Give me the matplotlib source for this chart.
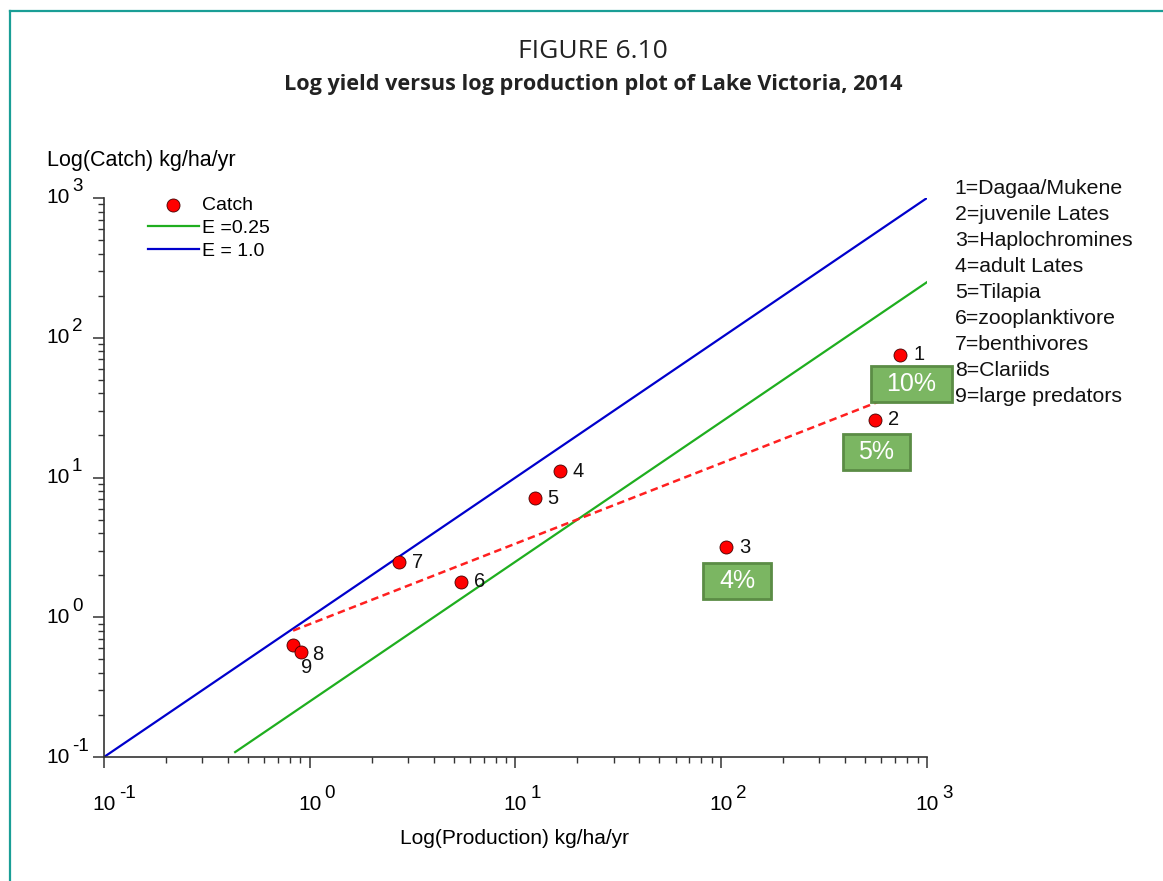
import numpy as np
import matplotlib
matplotlib.use("Agg")
import matplotlib.pyplot as plt
from matplotlib.lines import Line2D
from matplotlib.path import Path
from matplotlib.ticker import LogLocator, NullFormatter

plt.rcParams['font.family'] = ['Liberation Sans', 'DejaVu Sans']

# Production and catch per group, kg/ha/yr
group_ids = ['1', '2', '3', '4', '5', '6', '7', '8', '9']
production = [740, 559, 105.5, 16.4, 12.4, 5.43, 2.72, 0.83, 0.906]
catch = [75.3, 25.8, 3.18, 11.1, 7.13, 1.79, 2.48, 0.633, 0.564]
group_names = ['Dagaa/Mukene', 'juvenile Lates', 'Haplochromines', 'adult Lates',
               'Tilapia', 'zooplanktivore', 'benthivores', 'Clariids', 'large predators']

# exploitation reference lines
e_values = [0.25, 1.0]
e_labels = ['E =0.25', 'E = 1.0']
e_colors = ['#1fae1f', '#0000cc']
e_x_start = [0.434, 0.1]
x_end = 1000

# exploitation rate boxes attached to groups 1, 2 and 3
rate_groups = ['1', '2', '3']
rate_labels = ['10%', '5%', '4%']

decades = [-1, 0, 1, 2, 3]


def wide_box(x0, y0, width, height, mutation_size):
    # rectangle with more horizontal than vertical padding
    px, py = 0.62 * mutation_size, 0.24 * mutation_size
    x0, y0 = x0 - px, y0 - py
    x1, y1 = x0 + width + 2 * px, y0 + height + 2 * py
    return Path([(x0, y0), (x1, y0), (x1, y1), (x0, y1), (x0, y0)], closed=True)


fig = plt.figure(figsize=(11.63, 8.81), dpi=100)
ax = fig.add_axes([0.0894, 0.1407, 0.7077, 0.6346])

for e, lab, col, x0 in zip(e_values, e_labels, e_colors, e_x_start):
    xs = np.array([x0, x_end])
    ax.plot(xs, e * xs, color=col, lw=1.6, label=lab, zorder=2)

# log-log regression through the catch points
lx = np.log10(production)
ly = np.log10(catch)
slope, icpt = np.polyfit(lx, ly, 1)
fx = np.array([lx.min(), lx.max()])
ax.plot(10 ** fx, 10 ** (icpt + slope * fx), color='#ff2020', lw=1.8,
        ls=(0, (3, 1.8)), zorder=2)

ax.scatter(production, catch, s=88, color='#ff0000', edgecolor='#400000',
           linewidth=0.6, zorder=4, label='Catch')

label_offsets = {'8': (19, -9), '9': (0, -15)}
for gid, x, y in zip(group_ids, production, catch):
    dx, dy = label_offsets.get(gid, (13, 0))
    ax.annotate(gid, (x, y), xytext=(dx, dy), textcoords='offset pixels',
                fontsize=14.5, va='center', ha='left', color='#111111', zorder=5)

box_offsets = {'1': (11, -29), '2': (1, -32), '3': (11, -34)}
for gid, lab in zip(rate_groups, rate_labels):
    i = group_ids.index(gid)
    ax.annotate(lab, (production[i], catch[i]), xytext=box_offsets[gid],
                textcoords='offset pixels', fontsize=18, color='white',
                ha='center', va='center', zorder=6,
                bbox=dict(boxstyle=wide_box, fc='#7bb662', ec='#5b8c45', lw=2))

ax.set_xscale('log')
ax.set_yscale('log')
ax.set_xlim(0.1, 1000)
ax.set_ylim(0.1, 1000)

for side in ['top', 'right']:
    ax.spines[side].set_visible(False)
for side in ['left', 'bottom']:
    ax.spines[side].set_linewidth(1.2)
    ax.spines[side].set_color('#333333')

ax.xaxis.set_major_locator(LogLocator(base=10, numticks=10))
ax.yaxis.set_major_locator(LogLocator(base=10, numticks=10))
ax.xaxis.set_minor_locator(LogLocator(base=10, subs=np.arange(2, 10), numticks=20))
ax.yaxis.set_minor_locator(LogLocator(base=10, subs=np.arange(2, 10), numticks=20))
for axis in [ax.xaxis, ax.yaxis]:
    axis.set_major_formatter(NullFormatter())
    axis.set_minor_formatter(NullFormatter())
ax.tick_params(which='major', length=8, width=1.1, color='#333333')
ax.tick_params(which='minor', length=4, width=1.0, color='#333333')

# power-of-ten tick labels with full-size raised exponents
for d in decades:
    v = 10.0 ** d
    ax.annotate('10', (v, 0), xycoords=('data', 'axes fraction'), xytext=(0, -47),
                textcoords='offset pixels', ha='center', va='center', fontsize=15,
                annotation_clip=False)
    ax.annotate(str(d), (v, 0), xycoords=('data', 'axes fraction'), xytext=(15, -36),
                textcoords='offset pixels', ha='left', va='center', fontsize=13.5,
                annotation_clip=False)
    ax.annotate('10', (0, v), xycoords=('axes fraction', 'data'), xytext=(-34, 0),
                textcoords='offset pixels', ha='right', va='center', fontsize=15,
                annotation_clip=False)
    ax.annotate(str(d), (0, v), xycoords=('axes fraction', 'data'), xytext=(-32, 11),
                textcoords='offset pixels', ha='left', va='center', fontsize=13.5,
                annotation_clip=False)

fig.text(0.4428, 0.0488, 'Log(Production) kg/ha/yr', fontsize=15, ha='center', va='center')
fig.text(0.0404, 0.818, 'Log(Catch) kg/ha/yr', fontsize=15.5, ha='left', va='center')

handles, labels = ax.get_legend_handles_labels()
order = [2, 0, 1]
ax.legend([handles[i] for i in order], [labels[i] for i in order],
          loc='upper left', bbox_to_anchor=(0.037, 1.027), frameon=False,
          fontsize=14, handlelength=2.6, handletextpad=0.2, labelspacing=0.28,
          borderpad=0.2)

# key to the group numbers
for k, (gid, name) in enumerate(zip(group_ids, group_names)):
    fig.text(0.821, 0.7865 - k * 0.0295, f'{gid}={name}', fontsize=15.3,
             ha='left', va='center', color='#111111')

fig.text(0.51, 0.942, 'FIGURE 6.10', fontsize=19, ha='center', va='center',
         family=['Open Sans', 'DejaVu Sans'], color='#222222')
fig.text(0.51, 0.904, 'Log yield versus log production plot of Lake Victoria, 2014',
         fontsize=15.6, ha='center', va='center', fontweight='bold',
         family=['Open Sans', 'DejaVu Sans'], color='#222222')

# page frame lines
fig.add_artist(Line2D([0.0086, 0.0086], [0, 0.9875], transform=fig.transFigure,
                      color='#1a9e96', lw=1.6))
fig.add_artist(Line2D([0.0086, 1], [0.9875, 0.9875], transform=fig.transFigure,
                      color='#1a9e96', lw=1.6))

fig.savefig('out.png', dpi=100)
